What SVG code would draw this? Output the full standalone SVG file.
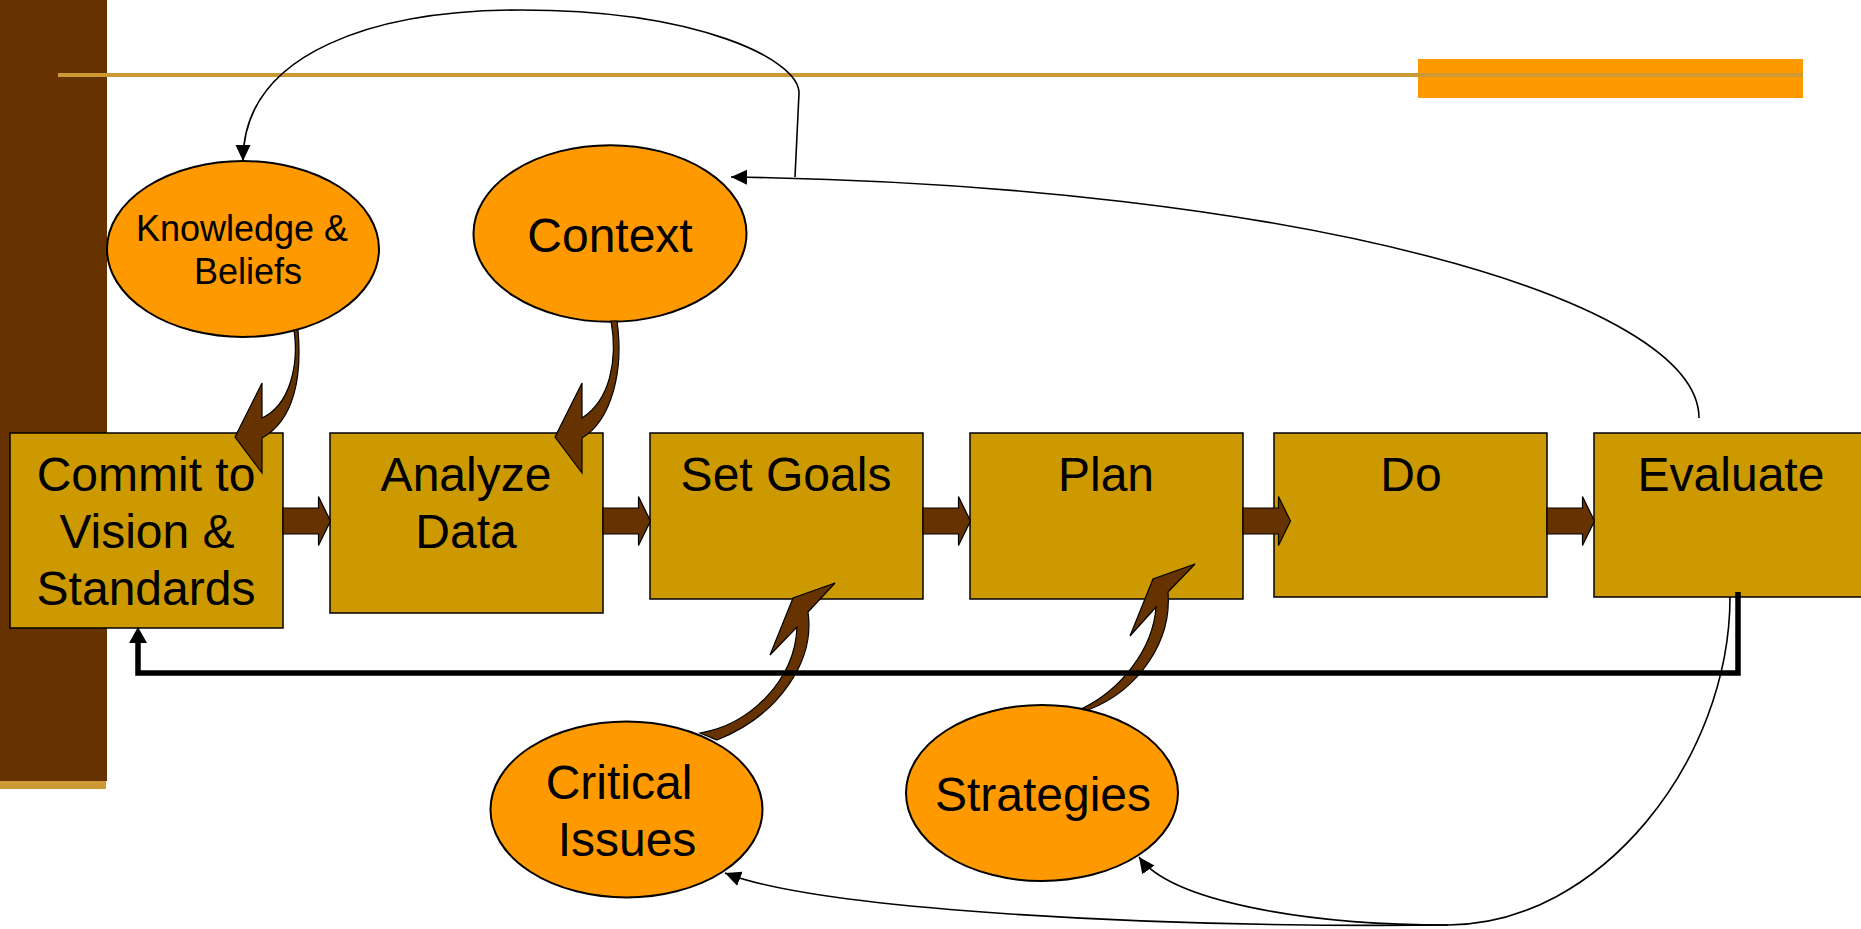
<svg xmlns="http://www.w3.org/2000/svg" width="1861" height="929" viewBox="0 0 1861 929">
<style>
.box{fill:#CC9900;stroke:#000;stroke-width:1.5}
.ell{fill:#FF9900;stroke:#000;stroke-width:2}
.t{font-family:"Liberation Sans",Arial,sans-serif;fill:#000;text-anchor:middle}
.big{font-size:48px}
.small{font-size:36px}
.blk{fill:#663300;stroke:#000;stroke-width:1.2}
.thin{fill:none;stroke:#000;stroke-width:1.6}
.thick{fill:none;stroke:#000;stroke-width:5.5}
</style>
<defs>
<marker id="ah" markerUnits="userSpaceOnUse" markerWidth="18" markerHeight="16" refX="16" refY="7.5" orient="auto">
<path d="M0,0 L16,7.5 L0,15 Z" fill="#000"/>
</marker>
<path id="barrow" d="M0,-13 H35.5 V-24.5 L47.5,0 L35.5,24.5 V13 H0 Z"/>
</defs>
<rect width="1861" height="929" fill="#fff"/>
<g id="decor">
<rect x="0" y="0" width="107" height="781" fill="#663300"/>
<rect x="0" y="781" width="106" height="8" fill="#CC9933"/>
<rect x="1418" y="59" width="385" height="39" fill="#FF9900"/>
<line x1="58" y1="75" x2="1803" y2="75" stroke="#CC9933" stroke-width="4"/>
</g>
<g id="commit"><rect class="box" x="10" y="433" width="273" height="195"/>
<text class="t big" x="146" y="491">Commit to</text><text class="t big" x="147" y="548">Vision &amp;</text><text class="t big" x="146" y="605">Standards</text></g>
<g id="analyze"><rect class="box" x="330" y="433" width="273" height="180"/>
<text class="t big" x="466" y="491">Analyze</text><text class="t big" x="466" y="548">Data</text></g>
<g id="setgoals"><rect class="box" x="650" y="433" width="273" height="166"/>
<text class="t big" x="786" y="491">Set Goals</text></g>
<g id="plan"><rect class="box" x="970" y="433" width="273" height="166"/>
<text class="t big" x="1106" y="491">Plan</text></g>
<g id="do"><rect class="box" x="1274" y="433" width="273" height="164"/>
<text class="t big" x="1411" y="491">Do</text></g>
<g id="evaluate"><rect class="box" x="1594" y="433" width="273" height="164"/>
<text class="t big" x="1731" y="491">Evaluate</text></g>
<g id="flow-arrows">
<use href="#barrow" class="blk" transform="translate(283,521)"/>
<use href="#barrow" class="blk" transform="translate(603,521)"/>
<use href="#barrow" class="blk" transform="translate(923,521)"/>
<use href="#barrow" class="blk" transform="translate(1243,521)"/>
<use href="#barrow" class="blk" transform="translate(1547,521)"/>
</g>
<g id="knowledge"><ellipse class="ell" cx="243" cy="249" rx="136" ry="88"/>
<text class="t small" x="242" y="241">Knowledge &amp;</text><text class="t small" x="248" y="284">Beliefs</text></g>
<g id="context"><ellipse class="ell" cx="610" cy="233.5" rx="136.5" ry="88.3"/>
<text class="t big" x="610" y="252">Context</text></g>
<g id="critical"><ellipse class="ell" cx="626.5" cy="809.5" rx="136" ry="88"/>
<text class="t big" x="619" y="799">Critical</text><text class="t big" x="627" y="856">Issues</text></g>
<g id="strategies"><ellipse class="ell" cx="1042" cy="793" rx="136" ry="88"/>
<text class="t big" x="1043" y="811">Strategies</text></g>
<g id="connectors">
<path class="blk" d="M294,330 C299,365 290,405 262,418 L262,383 L235,437 L262,473 L262,438 C295,420 302,375 298,330 Z"/>
<path class="blk" d="M611,321 C618,360 610,400 582,418 L582,383 L555,437 L582,473 L582,438 C612,420 624,370 617,321 Z"/>
<path class="blk" d="M700,733 C750,725 795,680 797,627 L770,655 L793,598 L835,583 L808,612 C815,660 780,715 717,740 Z"/>
<path class="blk" d="M1083,708 C1120,690 1153,650 1156,607 L1130,636 L1153,579 L1195,564 L1168,592 C1172,640 1140,690 1088,710 Z"/>
<polyline class="thick" points="1738,592 1738,673 138,673 138,642"/>
<path d="M129,643 L147,643 L138,627 Z" fill="#000"/>
<path class="thin" marker-end="url(#ah)" d="M1699,418 C1699,300 1300,185 731,177"/>
<path class="thin" marker-end="url(#ah)" d="M795,177 L799,93 C799,60 700,10 520,10 C380,10 243,50 243,161"/>
<path class="thin" d="M1730,597 C1730,760 1600,925 1448,925"/>
<path class="thin" marker-end="url(#ah)" d="M1448,925 C1150,928 820,910 725,873"/>
<path class="thin" marker-end="url(#ah)" d="M1448,925 C1300,925 1170,900 1139,857"/>
</g>
</svg>
